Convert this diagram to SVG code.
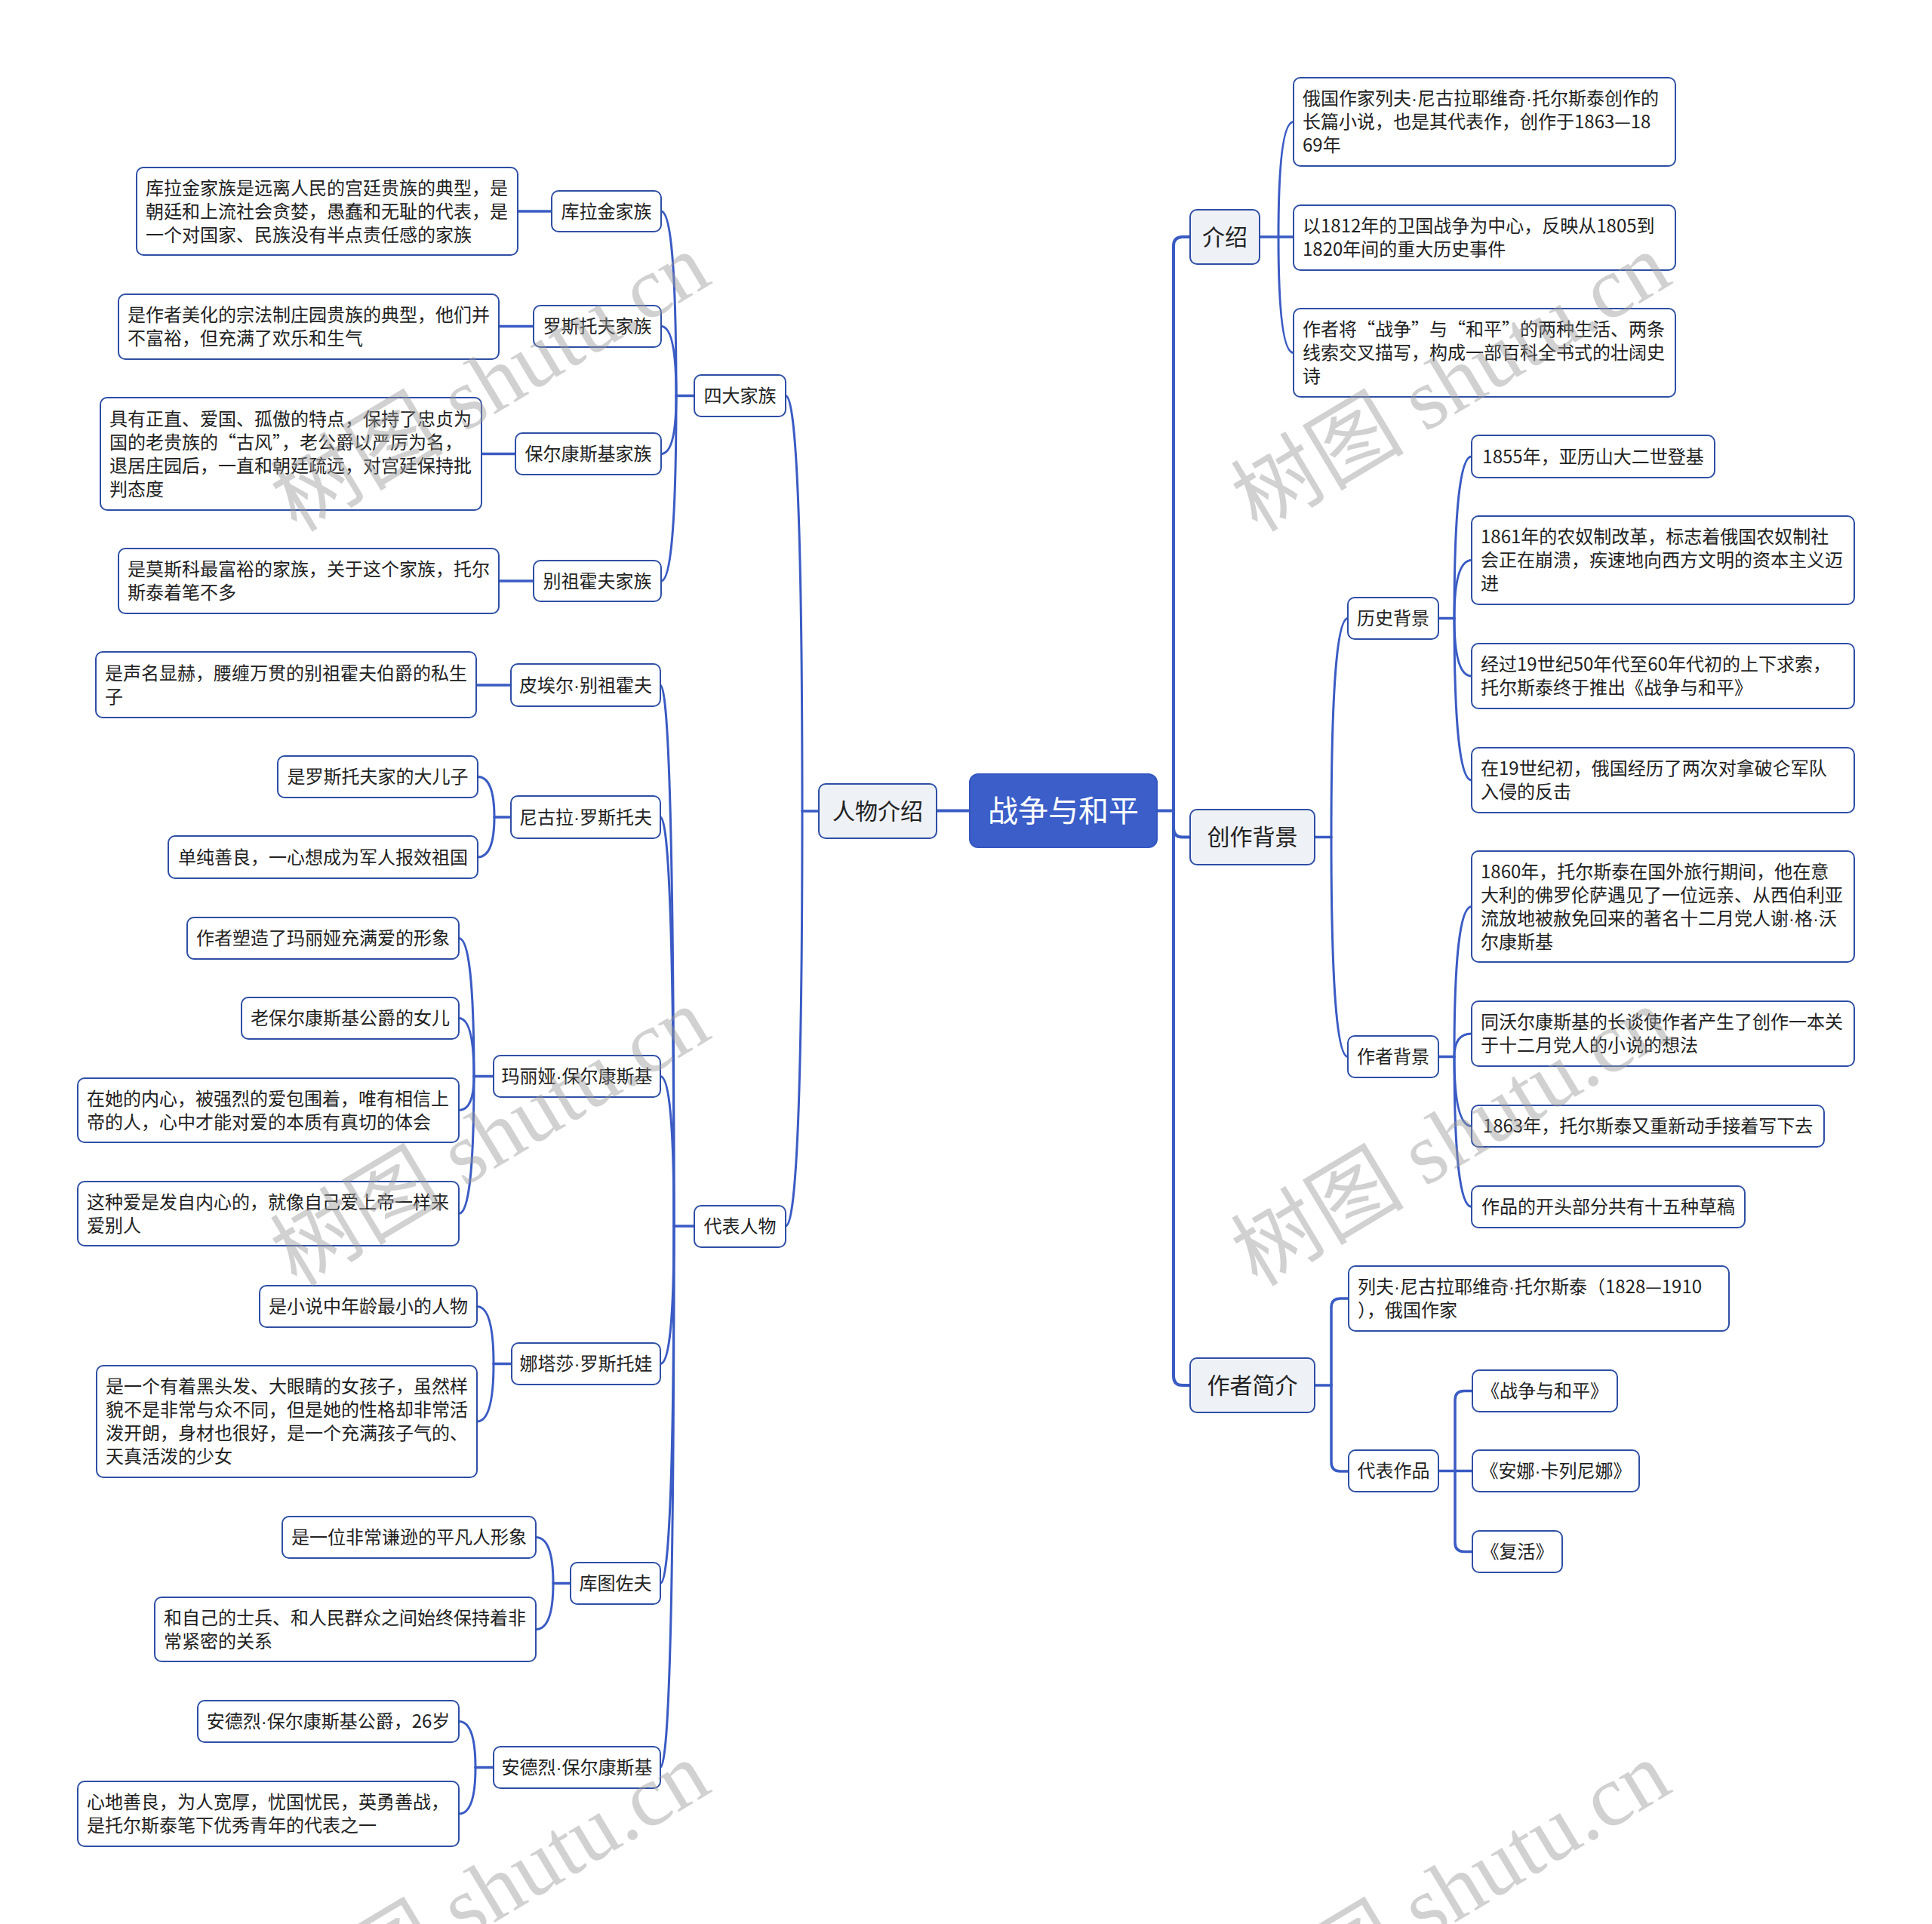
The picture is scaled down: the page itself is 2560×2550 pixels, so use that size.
<svg xmlns="http://www.w3.org/2000/svg" width="2560" height="2550" viewBox="0 0 2560 2550">
<style>
.bg{fill:#ffffff}
.box{fill:#ffffff;stroke:#2f4fa5;stroke-width:2}
.l1{fill:#eef1f6;stroke:#2f4fa5;stroke-width:2}
.root{fill:#3b5ec9;stroke:#3456c0;stroke-width:2}
.t{font-family:"Noto Sans CJK SC","Microsoft YaHei",sans-serif;font-size:24px;fill:#222222}
.d{font-family:"Liberation Sans",Arial,sans-serif}
.tc{text-anchor:middle}
.t1{font-size:30px}
.t0{font-size:40px;fill:#ffffff}
.c{fill:none;stroke:#3a5bc4;stroke-width:3;stroke-linecap:round;stroke-linejoin:round}
.c0{stroke-width:4}
.c1{stroke-width:3.5}
.wm{font-family:"Liberation Serif","Noto Sans CJK SC",serif;font-size:115px;fill:#9a9a9a;opacity:0.45;text-anchor:middle}
</style>
<rect class="bg" x="0" y="0" width="2560" height="2550"/>

<g id="connectors">
  <path class="c c0" d="M1533,1074.5 H1555"/>
  <path class="c c0" d="M1555,1074.5 V326 Q1555,314 1567,314 H1577"/>
  <path class="c c0" d="M1555,1074.5 V1097.5 Q1555,1109.5 1567,1109.5 H1577"/>
  <path class="c c0" d="M1555,1074.5 V1824 Q1555,1836 1567,1836 H1577"/>
  <path class="c c0" d="M1285,1074.5 H1241"/>
  <path class="c c1" d="M1669,314 H1714"/>
  <path class="c" d="M1694,314 Q1694,161.5 1714,161.5"/>
  <path class="c" d="M1694,314 Q1694,467.5 1714,467.5"/>
  <path class="c c1" d="M1742,1109.5 H1764"/>
  <path class="c" d="M1764,1109.5 Q1764,819.5 1786,819.5"/>
  <path class="c" d="M1764,1109.5 Q1764,1400.5 1786,1400.5"/>
  <path class="c c1" d="M1906,819.5 H1927"/>
  <path class="c" d="M1927,819.5 Q1927,605 1950,605"/>
  <path class="c" d="M1927,819.5 Q1927,742.5 1950,742.5"/>
  <path class="c" d="M1927,819.5 Q1927,896 1950,896"/>
  <path class="c" d="M1927,819.5 Q1927,1034 1950,1034"/>
  <path class="c c1" d="M1906,1400.5 H1927"/>
  <path class="c" d="M1927,1400.5 Q1927,1201.5 1950,1201.5"/>
  <path class="c" d="M1927,1400.5 Q1927,1370 1950,1370"/>
  <path class="c" d="M1927,1400.5 Q1927,1492.5 1950,1492.5"/>
  <path class="c" d="M1927,1400.5 Q1927,1599.5 1950,1599.5"/>
  <path class="c c1" d="M1741,1836 H1764"/>
  <path class="c c1" d="M1764,1836 V1733 Q1764,1721 1776,1721 H1787"/>
  <path class="c c1" d="M1764,1836 V1938 Q1764,1950 1776,1950 H1787"/>
  <path class="c c1" d="M1906,1949.5 H1951"/>
  <path class="c c1" d="M1928,1949.5 V1855.5 Q1928,1843.5 1940,1843.5 H1951"/>
  <path class="c c1" d="M1928,1949.5 V2044.5 Q1928,2056.5 1940,2056.5 H1951"/>
  <path class="c c1" d="M1085,1075 H1063"/>
  <path class="c" d="M1063,1075 Q1063,524.5 1041,524.5"/>
  <path class="c" d="M1063,1075 Q1063,1625 1041,1625"/>
  <path class="c c1" d="M920,524.5 H896"/>
  <path class="c" d="M896,524.5 Q896,280 876,280"/>
  <path class="c" d="M896,524.5 Q896,432.5 876,432.5"/>
  <path class="c" d="M896,524.5 Q896,601.5 876,601.5"/>
  <path class="c" d="M896,524.5 Q896,770 876,770"/>
  <path class="c c1" d="M731,280 H686"/>
  <path class="c c1" d="M707,432.5 H661"/>
  <path class="c c1" d="M683,601.5 H638"/>
  <path class="c c1" d="M707,770 H661"/>
  <path class="c c1" d="M920,1625 H893"/>
  <path class="c" d="M893,1625 Q893,908 875,908"/>
  <path class="c" d="M893,1625 Q893,1083 875,1083"/>
  <path class="c" d="M893,1625 Q893,1426.5 875,1426.5"/>
  <path class="c" d="M893,1625 Q893,1807.5 875,1807.5"/>
  <path class="c" d="M893,1625 Q893,2098.5 875,2098.5"/>
  <path class="c" d="M893,1625 Q893,2342.5 875,2342.5"/>
  <path class="c c1" d="M677,908 H631"/>
  <path class="c c1" d="M677,1083 H655"/>
  <path class="c" d="M655,1083 Q655,1029.5 633,1029.5"/>
  <path class="c" d="M655,1083 Q655,1136 633,1136"/>
  <path class="c c1" d="M654,1426.5 H628"/>
  <path class="c" d="M628,1426.5 Q628,1243.5 608,1243.5"/>
  <path class="c" d="M628,1426.5 Q628,1349.5 608,1349.5"/>
  <path class="c" d="M628,1426.5 Q628,1471.5 608,1471.5"/>
  <path class="c" d="M628,1426.5 Q628,1608.5 608,1608.5"/>
  <path class="c c1" d="M678,1807.5 H654"/>
  <path class="c" d="M654,1807.5 Q654,1731.5 632,1731.5"/>
  <path class="c" d="M654,1807.5 Q654,1884 632,1884"/>
  <path class="c c1" d="M756,2098.5 H733"/>
  <path class="c" d="M733,2098.5 Q733,2037.5 710,2037.5"/>
  <path class="c" d="M733,2098.5 Q733,2159.5 710,2159.5"/>
  <path class="c c1" d="M654,2342.5 H630"/>
  <path class="c" d="M630,2342.5 Q630,2281.5 608,2281.5"/>
  <path class="c" d="M630,2342.5 Q630,2404 608,2404"/>
</g>

<g id="root"><rect class="root" x="1285" y="1026" width="248" height="97" rx="11"/><text class="t t0 tc" x="1409" y="1088.5">战争与和平</text></g>

<g id="n-jieshao"><rect class="l1" x="1577" y="278" width="92" height="72" rx="9"/><text class="t t1 tc" x="1623" y="324.5">介绍</text></g>
<g id="n-js1"><rect class="box" x="1714" y="103" width="506" height="117" rx="9"/><text class="t" x="1726"><tspan x="1726" y="139">俄国作家列夫<tspan class="d">·</tspan>尼古拉耶维奇<tspan class="d">·</tspan>托尔斯泰创作的</tspan><tspan x="1726" y="170">长篇小说，也是其代表作，创作于1863—18</tspan><tspan x="1726" y="201">69年</tspan></text></g>
<g id="n-js2"><rect class="box" x="1714" y="272" width="506" height="86" rx="9"/><text class="t" x="1726"><tspan x="1726" y="308">以1812年的卫国战争为中心，反映从1805到</tspan><tspan x="1726" y="339">1820年间的重大历史事件</tspan></text></g>
<g id="n-js3"><rect class="box" x="1714" y="409" width="506" height="117" rx="9"/><text class="t" x="1726"><tspan x="1726" y="445">作者将“战争”与“和平”的两种生活、两条</tspan><tspan x="1726" y="476">线索交叉描写，构成一部百科全书式的壮阔史</tspan><tspan x="1726" y="507">诗</tspan></text></g>

<g id="n-chuangzuo"><rect class="l1" x="1577" y="1073" width="165" height="73" rx="9"/><text class="t t1 tc" x="1659.5" y="1120">创作背景</text></g>
<g id="n-lishi"><rect class="box" x="1786" y="792" width="120" height="55" rx="9"/><text class="t tc" x="1846" y="828">历史背景</text></g>
<g id="n-h1"><rect class="box" x="1950" y="577" width="322" height="56" rx="9"/><text class="t tc" x="2111" y="613.5">1855年，亚历山大二世登基</text></g>
<g id="n-h2"><rect class="box" x="1950" y="684" width="507" height="117" rx="9"/><text class="t" x="1962"><tspan x="1962" y="720">1861年的农奴制改革，标志着俄国农奴制社</tspan><tspan x="1962" y="751">会正在崩溃，疾速地向西方文明的资本主义迈</tspan><tspan x="1962" y="782">进</tspan></text></g>
<g id="n-h3"><rect class="box" x="1950" y="853" width="507" height="86" rx="9"/><text class="t" x="1962"><tspan x="1962" y="889">经过19世纪50年代至60年代初的上下求索，</tspan><tspan x="1962" y="920">托尔斯泰终于推出《战争与和平》</tspan></text></g>
<g id="n-h4"><rect class="box" x="1950" y="991" width="507" height="86" rx="9"/><text class="t" x="1962"><tspan x="1962" y="1027">在19世纪初，俄国经历了两次对拿破仑军队</tspan><tspan x="1962" y="1058">入侵的反击</tspan></text></g>

<g id="n-zuozhebj"><rect class="box" x="1786" y="1373" width="120" height="55" rx="9"/><text class="t tc" x="1846" y="1409">作者背景</text></g>
<g id="n-a1"><rect class="box" x="1950" y="1128" width="507" height="147" rx="9"/><text class="t" x="1962"><tspan x="1962" y="1163.5">1860年，托尔斯泰在国外旅行期间，他在意</tspan><tspan x="1962" y="1194.5">大利的佛罗伦萨遇见了一位远亲、从西伯利亚</tspan><tspan x="1962" y="1225.5">流放地被赦免回来的著名十二月党人谢<tspan class="d">·</tspan>格<tspan class="d">·</tspan>沃</tspan><tspan x="1962" y="1256.5">尔康斯基</tspan></text></g>
<g id="n-a2"><rect class="box" x="1950" y="1327" width="507" height="86" rx="9"/><text class="t" x="1962"><tspan x="1962" y="1363">同沃尔康斯基的长谈使作者产生了创作一本关</tspan><tspan x="1962" y="1394">于十二月党人的小说的想法</tspan></text></g>
<g id="n-a3"><rect class="box" x="1950" y="1465" width="467" height="55" rx="9"/><text class="t tc" x="2183.5" y="1501">1863年，托尔斯泰又重新动手接着写下去</text></g>
<g id="n-a4"><rect class="box" x="1950" y="1572" width="362" height="55" rx="9"/><text class="t tc" x="2131" y="1608">作品的开头部分共有十五种草稿</text></g>

<g id="n-zuozhejj"><rect class="l1" x="1577" y="1800" width="165" height="72" rx="9"/><text class="t t1 tc" x="1659.5" y="1846.5">作者简介</text></g>
<g id="n-liefu"><rect class="box" x="1787" y="1678" width="504" height="86" rx="9"/><text class="t" x="1799"><tspan x="1799" y="1714">列夫<tspan class="d">·</tspan>尼古拉耶维奇<tspan class="d">·</tspan>托尔斯泰（1828—1910</tspan><tspan x="1799" y="1745">），俄国作家</tspan></text></g>
<g id="n-daibiaozp"><rect class="box" x="1787" y="1922" width="119" height="55" rx="9"/><text class="t tc" x="1846.5" y="1958">代表作品</text></g>
<g id="n-w1"><rect class="box" x="1951" y="1816" width="192" height="55" rx="9"/><text class="t tc" x="2047" y="1852">《战争与和平》</text></g>
<g id="n-w2"><rect class="box" x="1951" y="1922" width="221" height="55" rx="9"/><text class="t tc" x="2061.5" y="1958">《安娜<tspan class="d">·</tspan>卡列尼娜》</text></g>
<g id="n-w3"><rect class="box" x="1951" y="2029" width="119" height="55" rx="9"/><text class="t tc" x="2010.5" y="2065">《复活》</text></g>

<g id="n-renwu"><rect class="l1" x="1085" y="1039" width="156" height="72" rx="9"/><text class="t t1 tc" x="1163" y="1085.5">人物介绍</text></g>
<g id="n-sida"><rect class="box" x="920" y="497" width="121" height="55" rx="9"/><text class="t tc" x="980.5" y="533">四大家族</text></g>
<g id="n-kulajin"><rect class="box" x="731" y="253" width="145" height="54" rx="9"/><text class="t tc" x="803.5" y="288.5">库拉金家族</text></g>
<g id="n-k-t"><rect class="box" x="181" y="222" width="505" height="116" rx="9"/><text class="t" x="193"><tspan x="193" y="257.5">库拉金家族是远离人民的宫廷贵族的典型，是</tspan><tspan x="193" y="288.5">朝廷和上流社会贪婪，愚蠢和无耻的代表，是</tspan><tspan x="193" y="319.5">一个对国家、民族没有半点责任感的家族</tspan></text></g>
<g id="n-luosituofu"><rect class="box" x="707" y="405" width="169" height="55" rx="9"/><text class="t tc" x="791.5" y="441">罗斯托夫家族</text></g>
<g id="n-r-t"><rect class="box" x="157" y="390" width="504" height="86" rx="9"/><text class="t" x="169"><tspan x="169" y="426">是作者美化的宗法制庄园贵族的典型，他们并</tspan><tspan x="169" y="457">不富裕，但充满了欢乐和生气</tspan></text></g>
<g id="n-baoerkang"><rect class="box" x="683" y="574" width="193" height="55" rx="9"/><text class="t tc" x="779.5" y="610">保尔康斯基家族</text></g>
<g id="n-b-t"><rect class="box" x="133" y="527" width="505" height="149" rx="9"/><text class="t" x="145"><tspan x="145" y="563.5">具有正直、爱国、孤傲的特点，保持了忠贞为</tspan><tspan x="145" y="594.5">国的老贵族的“古风”，老公爵以严厉为名，</tspan><tspan x="145" y="625.5">退居庄园后，一直和朝廷疏远，对宫廷保持批</tspan><tspan x="145" y="656.5">判态度</tspan></text></g>
<g id="n-biezuhuofu"><rect class="box" x="707" y="743" width="169" height="54" rx="9"/><text class="t tc" x="791.5" y="778.5">别祖霍夫家族</text></g>
<g id="n-bz-t"><rect class="box" x="157" y="727" width="504" height="86" rx="9"/><text class="t" x="169"><tspan x="169" y="763">是莫斯科最富裕的家族，关于这个家族，托尔</tspan><tspan x="169" y="794">斯泰着笔不多</tspan></text></g>

<g id="n-daibiaorw"><rect class="box" x="920" y="1598" width="121" height="55" rx="9"/><text class="t tc" x="980.5" y="1634">代表人物</text></g>
<g id="n-pier"><rect class="box" x="677" y="880" width="198" height="56" rx="9"/><text class="t tc" x="776" y="916.5">皮埃尔<tspan class="d">·</tspan>别祖霍夫</text></g>
<g id="n-pier-t"><rect class="box" x="127" y="864" width="504" height="87" rx="9"/><text class="t" x="139"><tspan x="139" y="900.5">是声名显赫，腰缠万贯的别祖霍夫伯爵的私生</tspan><tspan x="139" y="931.5">子</tspan></text></g>
<g id="n-nigula"><rect class="box" x="677" y="1055" width="198" height="56" rx="9"/><text class="t tc" x="776" y="1091.5">尼古拉<tspan class="d">·</tspan>罗斯托夫</text></g>
<g id="n-n1"><rect class="box" x="368" y="1002" width="265" height="55" rx="9"/><text class="t tc" x="500.5" y="1038">是罗斯托夫家的大儿子</text></g>
<g id="n-n2"><rect class="box" x="223" y="1108" width="410" height="56" rx="9"/><text class="t tc" x="428" y="1144.5">单纯善良，一心想成为军人报效祖国</text></g>
<g id="n-maliya"><rect class="box" x="654" y="1399" width="221" height="55" rx="9"/><text class="t tc" x="764.5" y="1435">玛丽娅<tspan class="d">·</tspan>保尔康斯基</text></g>
<g id="n-m1"><rect class="box" x="248" y="1216" width="360" height="55" rx="9"/><text class="t tc" x="428" y="1252">作者塑造了玛丽娅充满爱的形象</text></g>
<g id="n-m2"><rect class="box" x="320" y="1322" width="288" height="55" rx="9"/><text class="t tc" x="464" y="1358">老保尔康斯基公爵的女儿</text></g>
<g id="n-m3"><rect class="box" x="103" y="1429" width="505" height="85" rx="9"/><text class="t" x="115"><tspan x="115" y="1464.5">在她的内心，被强烈的爱包围着，唯有相信上</tspan><tspan x="115" y="1495.5">帝的人，心中才能对爱的本质有真切的体会</tspan></text></g>
<g id="n-m4"><rect class="box" x="103" y="1566" width="505" height="85" rx="9"/><text class="t" x="115"><tspan x="115" y="1601.5">这种爱是发自内心的，就像自己爱上帝一样来</tspan><tspan x="115" y="1632.5">爱别人</tspan></text></g>
<g id="n-natasha"><rect class="box" x="678" y="1780" width="197" height="55" rx="9"/><text class="t tc" x="776.5" y="1816">娜塔莎<tspan class="d">·</tspan>罗斯托娃</text></g>
<g id="n-na1"><rect class="box" x="344" y="1704" width="288" height="55" rx="9"/><text class="t tc" x="488" y="1740">是小说中年龄最小的人物</text></g>
<g id="n-na2"><rect class="box" x="128" y="1810" width="504" height="148" rx="9"/><text class="t" x="140"><tspan x="140" y="1846">是一个有着黑头发、大眼睛的女孩子，虽然样</tspan><tspan x="140" y="1877">貌不是非常与众不同，但是她的性格却非常活</tspan><tspan x="140" y="1908">泼开朗，身材也很好，是一个充满孩子气的、</tspan><tspan x="140" y="1939">天真活泼的少女</tspan></text></g>
<g id="n-kutuzuofu"><rect class="box" x="756" y="2071" width="119" height="55" rx="9"/><text class="t tc" x="815.5" y="2107">库图佐夫</text></g>
<g id="n-ku1"><rect class="box" x="374" y="2010" width="336" height="55" rx="9"/><text class="t tc" x="542" y="2046">是一位非常谦逊的平凡人形象</text></g>
<g id="n-ku2"><rect class="box" x="205" y="2117" width="505" height="85" rx="9"/><text class="t" x="217"><tspan x="217" y="2152.5">和自己的士兵、和人民群众之间始终保持着非</tspan><tspan x="217" y="2183.5">常紧密的关系</tspan></text></g>
<g id="n-andelie"><rect class="box" x="654" y="2315" width="221" height="55" rx="9"/><text class="t tc" x="764.5" y="2351">安德烈<tspan class="d">·</tspan>保尔康斯基</text></g>
<g id="n-an1"><rect class="box" x="262" y="2254" width="346" height="55" rx="9"/><text class="t tc" x="435" y="2290">安德烈<tspan class="d">·</tspan>保尔康斯基公爵，26岁</text></g>
<g id="n-an2"><rect class="box" x="103" y="2361" width="505" height="86" rx="9"/><text class="t" x="115"><tspan x="115" y="2397">心地善良，为人宽厚，忧国忧民，英勇善战，</tspan><tspan x="115" y="2428">是托尔斯泰笔下优秀青年的代表之一</tspan></text></g>

<g id="watermarks">
  <text class="wm" transform="translate(649,506) rotate(-31)" x="0" y="40">树图 shutu.cn</text>
  <text class="wm" transform="translate(1922,506) rotate(-31)" x="0" y="40">树图 shutu.cn</text>
  <text class="wm" transform="translate(649,1506) rotate(-31)" x="0" y="40">树图 shutu.cn</text>
  <text class="wm" transform="translate(1922,1506) rotate(-31)" x="0" y="40">树图 shutu.cn</text>
  <text class="wm" transform="translate(649,2505) rotate(-31)" x="0" y="40">树图 shutu.cn</text>
  <text class="wm" transform="translate(1922,2505) rotate(-31)" x="0" y="40">树图 shutu.cn</text>
</g>
</svg>
